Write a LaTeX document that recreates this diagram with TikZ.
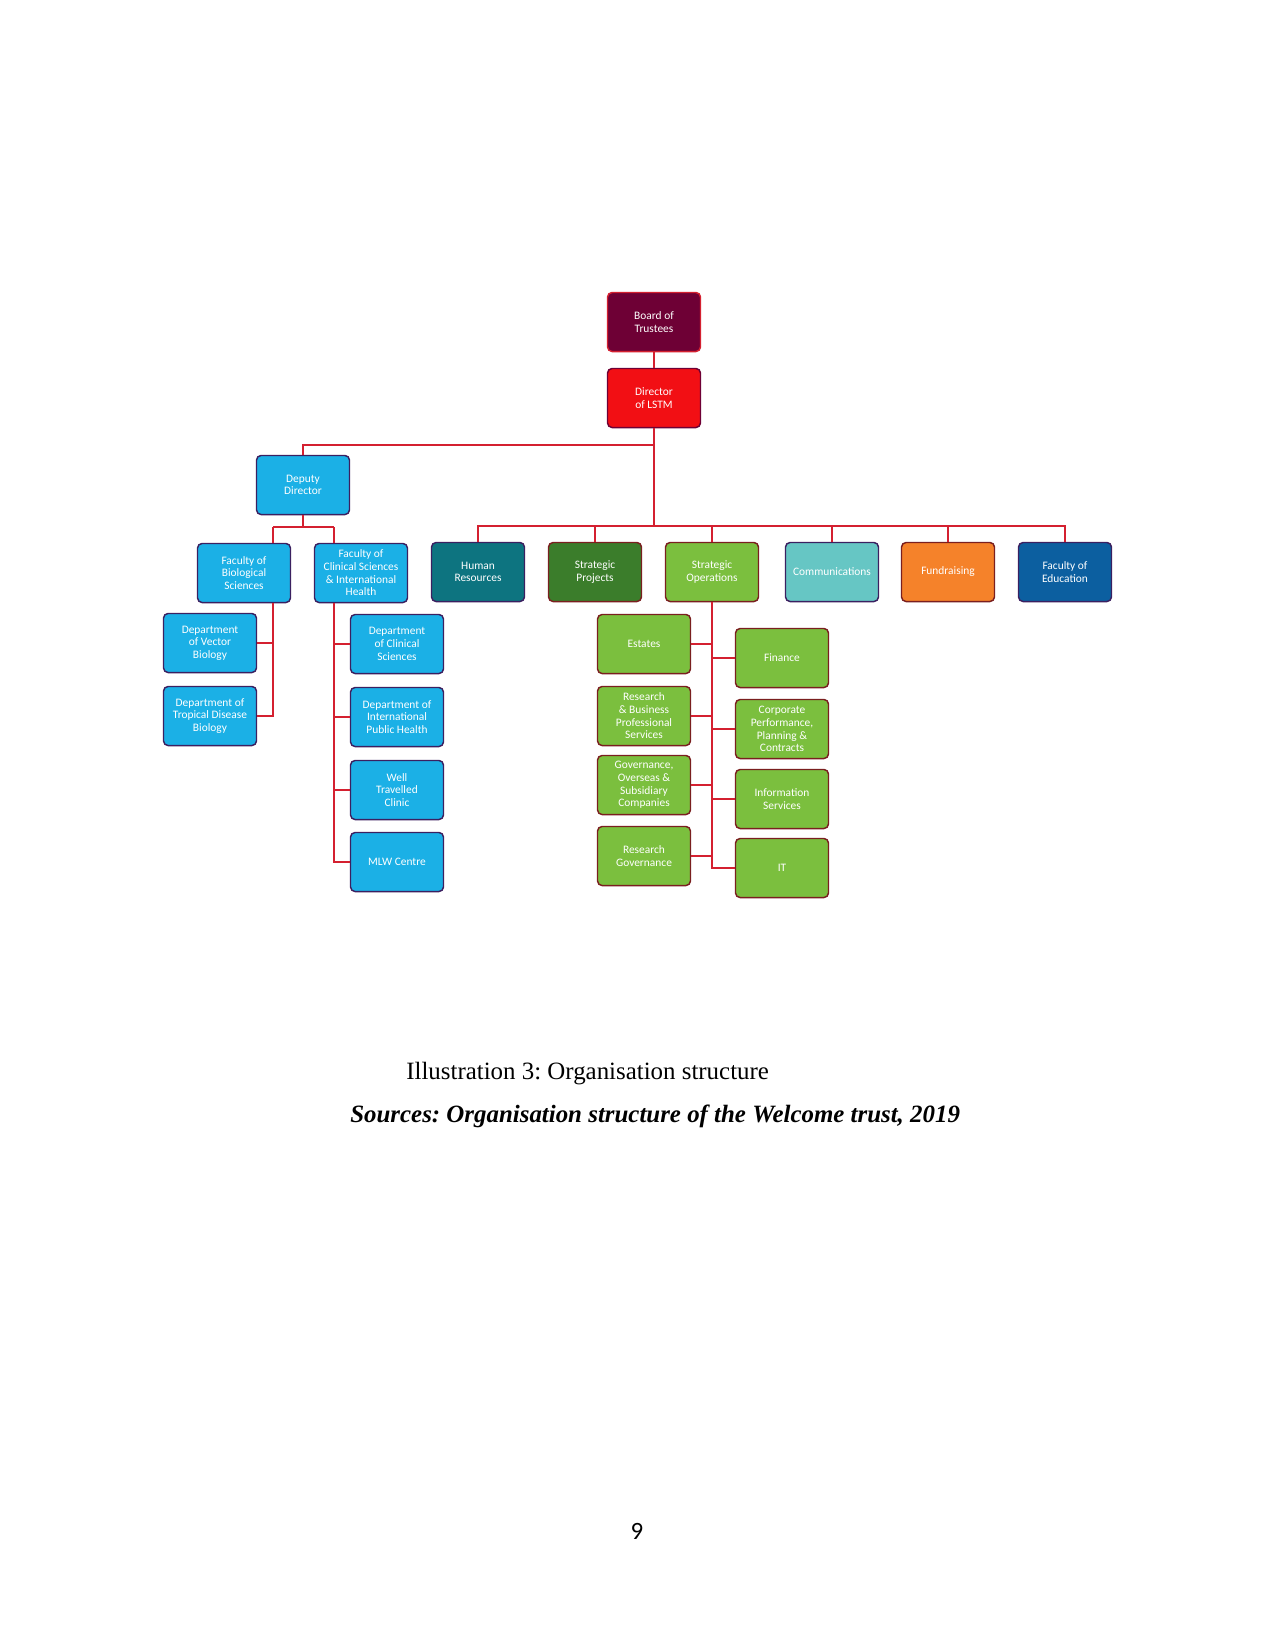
\documentclass[tikz,border=0pt]{standalone}
\usepackage{fontspec}
\setmainfont{Liberation Serif}
\newfontfamily\boxfont{Carlito}
\usepackage{xcolor}
\usetikzlibrary{positioning, calc}
\frenchspacing

\definecolor{boardred}{HTML}{6E0035}
\definecolor{directorred}{HTML}{F20F14}
\definecolor{facblue}{HTML}{1BB0E6}
\definecolor{hrteal}{HTML}{0D7480}
\definecolor{projgreen}{HTML}{3B7D2B}
\definecolor{opsgreen}{HTML}{7BBF3E}
\definecolor{commteal}{HTML}{66C6C4}
\definecolor{fundorange}{HTML}{F5822A}
\definecolor{educblue}{HTML}{0C5FA0}
\definecolor{linkred}{HTML}{D42030}
\definecolor{navyedge}{HTML}{3B2060}
\definecolor{brownedge}{HTML}{7A1F1F}

\begin{document}
\begin{tikzpicture}[
                x=0.016933cm, y=-0.016933cm,
                unit/.style={rectangle, rounded corners=2.2pt, align=center, text=white,
                        font=\boxfont\fontsize{5.5}{6.1}\selectfont, line width=0.7pt,
                        minimum width=1.575cm, minimum height=1.0cm, inner sep=1pt},
                faculty/.style={unit, fill=facblue, draw=navyedge},
                support/.style={unit, fill=opsgreen, draw=brownedge},
                link/.style={draw=linkred, line width=0.6pt},
            ]
            \useasboundingbox (0,0) rectangle (1275,1650);

            % --- top -------------------------------------------------------
            \node[unit, fill=boardred, draw=linkred]        (board)    at (654,322) {Board of\\Trustees};
            \node[unit, fill=directorred, draw=boardred]    (director) at (654,398) {Director\\of LSTM};
            \node[faculty] (deputy) at (303,485) {Deputy\\Director};

            % --- first row -------------------------------------------------
            \node[faculty] (fbio)  at (244,573) {Faculty of\\Biological\\Sciences};
            \node[faculty] (fclin) at (361,573) {Faculty of\\Clinical Sciences\\\& International\\Health};
            \node[unit, fill=hrteal, draw=navyedge]       (hr)    at (478,572) {Human\\Resources};
            \node[unit, fill=projgreen, draw=brownedge]   (sproj) at (595,572) {Strategic\\Projects};
            \node[support] (sops)  at (712,572) {Strategic\\Operations};
            \node[unit, fill=commteal, draw=navyedge]     (comms) at (832,572) {Communications};
            \node[unit, fill=fundorange, draw=brownedge]  (fund)  at (948,572) {Fundraising};
            \node[unit, fill=educblue, draw=navyedge]     (feduc) at (1065,572) {Faculty of\\Education};

            % --- departments -----------------------------------------------
            \node[faculty] (vector)   at (210,643) {Department\\of Vector\\Biology};
            \node[faculty] (tropical) at (210,716) {Department of\\Tropical Disease\\Biology};

            \node[faculty] (dcs)    at (397,644) {Department\\of Clinical\\Sciences};
            \node[faculty] (intlph) at (397,717) {Department of\\International\\Public Health};
            \node[faculty] (travel) at (397,790) {Well\\Travelled\\Clinic};
            \node[faculty] (mlw)    at (397,862) {MLW Centre};

            % --- operations ------------------------------------------------
            \node[support] (estates) at (644,644) {Estates};
            \node[support] (rbps)    at (644,716) {Research\\\& Business\\Professional\\Services};
            \node[support] (gov)     at (644,785) {Governance,\\Overseas \&\\Subsidiary\\Companies};
            \node[support] (rgov)    at (644,856) {Research\\Governance};

            \node[support] (finance) at (782,658) {Finance};
            \node[support] (corp)    at (782,729) {Corporate\\Performance,\\Planning \&\\Contracts};
            \node[support] (info)    at (782,799) {Information\\Services};
            \node[support] (it)      at (782,868) {IT};

            % --- connectors ------------------------------------------------
            \coordinate (depbus)   at (654,445);
            \coordinate (topbus)   at (654,526);
            \coordinate (bioline)  at (273,527);
            \coordinate (clinline) at (334,527);

            \draw[link] (board.south) -- (director.north);
            \draw[link] (director.south) -- (topbus);
            \draw[link] (depbus) -| (deputy.north);
            \foreach \n in {hr, sproj, sops, comms, fund, feduc}
                \draw[link] (topbus) -| (\n.north);

            \draw[link] (deputy.south) -- (deputy.south |- bioline);
            \draw[link] (bioline) -- (clinline);
            \draw[link] (bioline) -- (bioline |- fbio.north);
            \draw[link] (clinline) -- (clinline |- fclin.north);

            \draw[link] (fbio.south -| bioline) |- (tropical.east);
            \draw[link] (vector.east) -- (vector.east -| bioline);

            \draw[link] (fclin.south -| clinline) |- (mlw.west);
            \foreach \n in {dcs, intlph, travel}
                \draw[link] (\n.west) -- (\n.west -| clinline);

            \draw[link] (sops.south) |- (it.west);
            \foreach \n in {estates, rbps, gov, rgov}
                \draw[link] (\n.east) -- (\n.east -| sops.south);
            \foreach \n in {finance, corp, info}
                \draw[link] (\n.west) -- (\n.west -| sops.south);

            % --- caption ---------------------------------------------------
            \node[anchor=west, font=\fontsize{12}{14}\selectfont] (caption) at (399,1074)
                {Illustration 3: Organisation structure};
            \node[anchor=west, font=\fontsize{12}{14}\selectfont\bfseries\itshape] (source) at (343,1116)
                {Sources: Organisation structure of the Welcome trust, 2019};
            \node[font=\boxfont\fontsize{12}{14}\selectfont] (pageno) at (637,1531) {9};
        \end{tikzpicture}
\end{document}
